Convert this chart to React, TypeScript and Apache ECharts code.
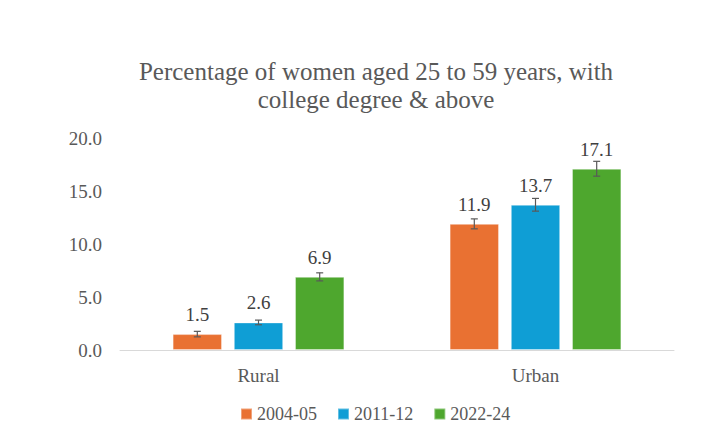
import React, { useEffect, useRef } from "react";
import * as echarts from "echarts";

const categories = ["Rural", "Urban"];
const seriesNames = ["2004-05", "2011-12", "2022-24"];
const values2004 = [1.5, 11.9];
const values2011 = [2.6, 13.7];
const values2022 = [6.9, 17.1];
const err2004 = [0.26, 0.47];
const err2011 = [0.22, 0.6];
const err2022 = [0.38, 0.7];
const colors = ["#E97132", "#0F9ED5", "#4EA72E"];
const titleLines = ["Percentage of women aged 25 to 59 years, with", "college degree & above"];

const FONT = "Liberation Serif";
const CAT_GAP = 0.38;
const BAR_GAP = 0.24;

export default function App() {
  const ref = useRef<HTMLDivElement>(null);
  useEffect(() => {
    if (!ref.current) return;
    document.body.style.margin = "0";
    const chart = echarts.init(ref.current, null, { renderer: "svg" });
    const allValues = [values2004, values2011, values2022];
    const allErr = [err2004, err2011, err2022];

    const barSeries = allValues.map((vals, i) => ({
      name: seriesNames[i],
      type: "bar",
      data: vals,
      itemStyle: { color: colors[i], borderColor: "rgba(255,255,255,0.35)", borderWidth: 1 },
      barGap: `${BAR_GAP * 100}%`,
      barCategoryGap: `${CAT_GAP * 100}%`,
      label: {
        show: true,
        position: "top",
        distance: 10,
        formatter: (p: any) => p.value.toFixed(1),
        color: "#404040",
        fontFamily: FONT,
        fontSize: 19,
      },
      z: 2,
    }));

    const errSeries = allValues.map((vals, i) => ({
      type: "custom",
      name: seriesNames[i] + " err",
      data: vals.map((v, k) => [k, v - allErr[i][k], v + allErr[i][k]]),
      encode: { x: 0, y: [1, 2] },
      z: 5,
      silent: true,
      renderItem: (params: any, api: any) => {
        const k = api.value(0);
        const lo = api.coord([k, api.value(1)]);
        const hi = api.coord([k, api.value(2)]);
        const band = api.size([1, 0])[0];
        const bw = (band * (1 - CAT_GAP)) / (3 + 2 * BAR_GAP);
        const step = bw * (1 + BAR_GAP);
        const x = lo[0] + (i - 1) * step;
        const cap = 3.5;
        const st = { stroke: "#595959", lineWidth: 1.2 };
        return {
          type: "group",
          children: [
            { type: "line", shape: { x1: x, y1: lo[1], x2: x, y2: hi[1] }, style: st },
            { type: "line", shape: { x1: x - cap, y1: lo[1], x2: x + cap, y2: lo[1] }, style: st },
            { type: "line", shape: { x1: x - cap, y1: hi[1], x2: x + cap, y2: hi[1] }, style: st },
          ],
        };
      },
    }));

    chart.setOption({
      animation: false,
      backgroundColor: "#ffffff",
      textStyle: { fontFamily: FONT },
      graphic: titleLines.map((t, j) => ({
        type: "text",
        x: 376,
        y: 71 + j * 28,
        style: {
          text: t,
          fill: "#595959",
          fontFamily: FONT,
          fontSize: 25,
          textAlign: "center",
          textVerticalAlign: "middle",
        },
      })),
      legend: {
        data: seriesNames,
        left: 235,
        top: 400,
        itemWidth: 11,
        itemHeight: 11,
        itemGap: 20,
        icon: "rect",
        textStyle: { color: "#595959", fontFamily: FONT, fontSize: 18 },
      },
      grid: { left: 120, right: 28, top: 138, bottom: 94, containLabel: false },
      xAxis: {
        type: "category",
        data: categories,
        axisLine: { lineStyle: { color: "#d9d9d9", width: 1 } },
        axisTick: { show: false },
        axisLabel: { color: "#595959", fontFamily: FONT, fontSize: 19, margin: 16 },
      },
      yAxis: {
        type: "value",
        min: 0,
        max: 20,
        interval: 5,
        axisLine: { show: false },
        axisTick: { show: false },
        splitLine: { show: false },
        axisLabel: {
          color: "#595959",
          fontFamily: FONT,
          fontSize: 19,
          margin: 18,
          formatter: (v: number) => v.toFixed(1),
        },
      },
      series: [...barSeries, ...errSeries],
    });
    return () => chart.dispose();
  }, []);
  return <div ref={ref} style={{ width: 702, height: 444 }} />;
}
